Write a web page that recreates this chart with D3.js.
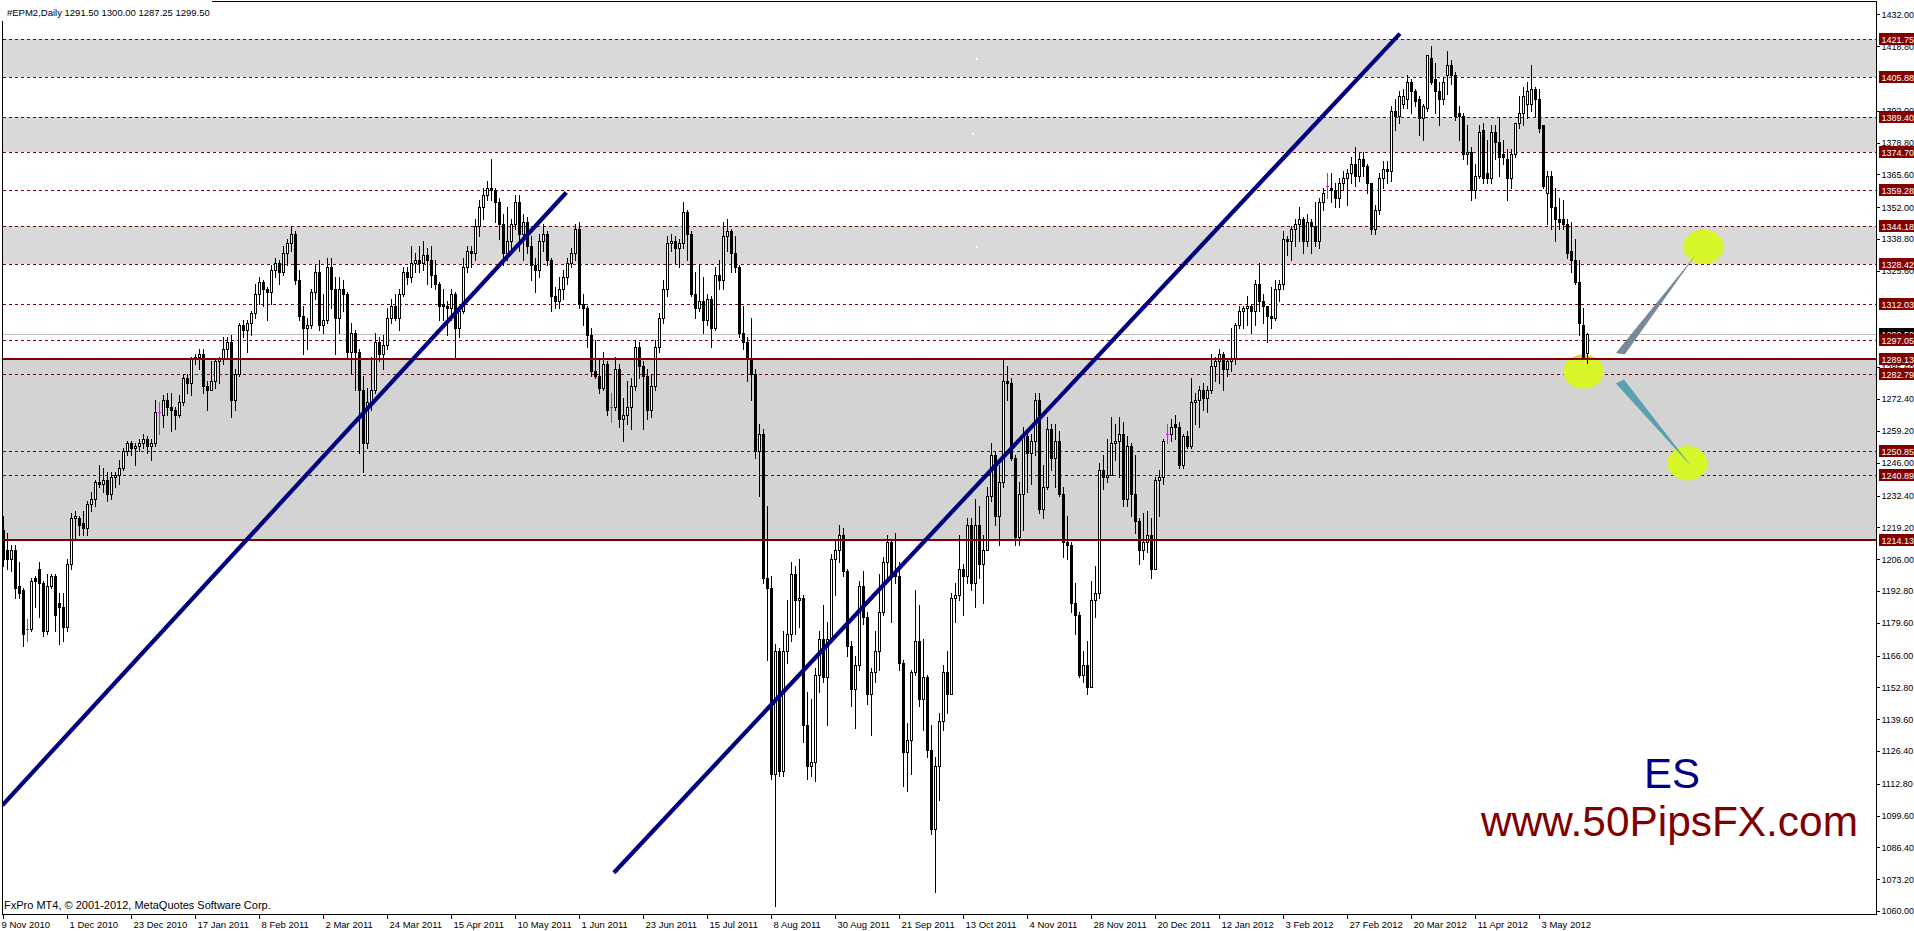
<!DOCTYPE html>
<html><head><meta charset="utf-8">
<script src="https://cdn.jsdelivr.net/npm/d3@7"></script>
<style>
html,body{margin:0;padding:0;background:#fff;overflow:hidden}
svg{display:block}
text{font-family:"Liberation Sans",Arial,sans-serif}
</style></head><body>
<svg id="c" width="1914" height="931"></svg>
<script>
// ---------------- data ----------------
const titleText = "#EPM2,Daily  1291.50 1300.00 1287.25 1299.50";
const copyrightText = "FxPro MT4, \u00A9 2001-2012, MetaQuotes Software Corp.";
const dateLabels = ["9 Nov 2010","1 Dec 2010","23 Dec 2010","17 Jan 2011","8 Feb 2011","2 Mar 2011","24 Mar 2011","15 Apr 2011","10 May 2011","1 Jun 2011","23 Jun 2011","15 Jul 2011","8 Aug 2011","30 Aug 2011","21 Sep 2011","13 Oct 2011","4 Nov 2011","28 Nov 2011","20 Dec 2011","12 Jan 2012","3 Feb 2012","27 Feb 2012","20 Mar 2012","11 Apr 2012","3 May 2012"];
const barsPerDateLabel = 16;
// visible price-scale labels (the ones hidden behind level tags are left out)
const priceTicks = [1432.00,1418.80,1392.00,1378.80,1365.60,1352.00,1338.80,1325.60,1285.60,1272.40,1259.20,1246.00,1232.40,1219.20,1206.00,1192.80,1179.60,1166.00,1152.80,1139.60,1126.40,1112.80,1099.60,1086.40,1073.20,1060.00];

const opens = [1218,1210,1206,1210,1195,1193,1177,1177,1198,1202,
1196,1176,1195,1199,1188,1186,1178,1204,1223,1223,
1221,1219,1229,1231,1238,1237,1239,1233,1240,1241,
1244,1251,1254,1252,1253,1254,1256,1253,1254,1267,
1266,1272,1269,1268,1266,1271,1281,1279,1289,1290,
1291,1278,1276,1280,1288,1289,1293,1296,1272,1283,
1303,1301,1304,1308,1316,1321,1318,1317,1326,1329,
1325,1333,1337,1341,1322,1307,1302,1303,1317,1325,
1303,1305,1327,1318,1306,1318,1316,1292,1300,1292,
1276,1254,1271,1276,1296,1291,1295,1306,1311,1306,
1316,1325,1323,1329,1330,1329,1332,1330,1324,1320,
1312,1311,1310,1316,1302,1309,1327,1334,1333,1344,
1352,1357,1360,1359,1354,1345,1333,1338,1345,1354,
1341,1346,1336,1328,1326,1338,1341,1330,1315,1313,
1318,1323,1329,1333,1343,1312,1310,1299,1284,1282,
1277,1287,1269,1269,1285,1264,1266,1269,1278,1294,
1286,1282,1268,1278,1294,1306,1318,1337,1338,1335,
1337,1350,1341,1316,1310,1313,1305,1314,1302,1324,
1322,1340,1342,1333,1327,1300,1296,1289,1283,1251,
1258,1198,1194,1117,1168,1118,1168,1175,1200,1189,
1190,1137,1120,1122,1158,1173,1157,1173,1206,1210,
1216,1201,1170,1152,1162,1195,1182,1150,1159,1168,
1184,1205,1213,1200,1199,1163,1126,1131,1159,1172,
1148,1157,1127,1094,1120,1139,1159,1150,1190,1191,
1202,1199,1220,1196,1220,1204,1210,1232,1249,1224,
1238,1280,1279,1248,1215,1233,1257,1250,1255,1272,
1227,1236,1260,1248,1255,1233,1213,1212,1188,1183,
1158,1162,1153,1189,1192,1243,1240,1241,1254,1255,
1258,1231,1253,1233,1222,1210,1213,1216,1202,1239,
1240,1258,1258,1262,1261,1245,1257,1253,1271,1272,
1276,1273,1276,1286,1288,1291,1285,1288,1289,1303,
1309,1310,1311,1309,1320,1313,1311,1307,1306,1318,
1320,1339,1338,1343,1345,1347,1338,1346,1344,1338,
1354,1361,1360,1359,1356,1362,1364,1366,1370,1365,
1372,1369,1362,1343,1351,1364,1368,1367,1392,1390,
1395,1397,1404,1400,1397,1389,1393,1414,1405,1400,
1397,1407,1411,1407,1391,1390,1374,1375,1359,1365,
1384,1366,1364,1383,1379,1374,1372,1364,1374,1387,
1391,1395,1395,1401,1397,1386,1358,1365,1352,1347,
1347,1345,1334,1330,1321,1303,1291.5];

const highs = [1224,1217,1212,1212,1205,1194,1181,1198,1199,1205,
1197,1200,1200,1200,1192,1192,1206,1225,1226,1224,
1226,1230,1234,1239,1245,1244,1242,1242,1242,1247,
1252,1255,1255,1254,1256,1258,1257,1256,1272,1271,
1274,1275,1275,1269,1274,1283,1283,1290,1291,1293,
1293,1280,1288,1289,1290,1298,1298,1299,1285,1304,
1305,1305,1309,1320,1323,1322,1319,1328,1331,1330,
1336,1339,1344,1342,1326,1311,1306,1318,1328,1330,
1316,1331,1331,1323,1323,1322,1317,1304,1301,1293,
1282,1277,1290,1300,1298,1299,1310,1314,1316,1318,
1327,1327,1336,1333,1336,1338,1335,1336,1330,1321,
1318,1313,1318,1317,1311,1331,1336,1336,1347,1355,
1360,1363,1372,1360,1356,1349,1352,1347,1357,1357,
1349,1348,1340,1331,1341,1345,1342,1331,1319,1323,
1326,1331,1335,1345,1346,1316,1311,1302,1297,1289,
1292,1288,1275,1290,1287,1273,1280,1281,1297,1296,
1288,1285,1283,1297,1308,1322,1340,1341,1340,1339,
1354,1351,1342,1325,1328,1323,1316,1315,1327,1330,
1346,1347,1343,1340,1328,1311,1298,1306,1285,1262,
1260,1228,1199,1171,1169,1176,1189,1205,1203,1206,
1191,1151,1148,1161,1176,1187,1180,1208,1214,1220,
1219,1202,1172,1166,1197,1201,1184,1161,1176,1200,
1207,1216,1214,1217,1205,1164,1138,1160,1193,1187,
1173,1158,1137,1124,1142,1162,1168,1192,1196,1216,
1204,1223,1223,1231,1228,1216,1236,1254,1251,1245,
1289,1286,1281,1249,1238,1261,1258,1258,1275,1275,
1245,1265,1262,1262,1259,1236,1224,1213,1196,1184,
1168,1172,1197,1203,1246,1249,1256,1265,1262,1265,
1263,1257,1254,1249,1223,1225,1226,1223,1240,1243,
1256,1262,1264,1266,1263,1258,1259,1281,1275,1278,
1279,1278,1291,1290,1293,1292,1289,1302,1304,1311,
1311,1315,1312,1322,1329,1316,1311,1319,1322,1322,
1342,1340,1344,1347,1352,1348,1349,1347,1354,1356,
1360,1366,1366,1362,1364,1367,1368,1373,1377,1375,
1375,1370,1362,1353,1366,1371,1371,1394,1397,1400,
1401,1407,1405,1401,1398,1395,1415,1419,1412,1404,
1406,1417,1413,1408,1394,1391,1386,1377,1370,1386,
1387,1380,1386,1386,1389,1380,1376,1376,1387,1398,
1402,1404,1411,1402,1401,1386,1367,1367,1360,1356,
1355,1347,1346,1339,1330,1310,1300];

const lows = [1203,1202,1201,1190,1190,1170,1172,1176,1186,1182,
1174,1175,1194,1176,1171,1172,1176,1202,1214,1216,
1216,1216,1226,1228,1236,1234,1230,1231,1236,1237,
1243,1249,1249,1245,1251,1252,1250,1247,1253,1258,
1261,1266,1259,1260,1265,1270,1275,1274,1287,1285,
1275,1268,1276,1277,1279,1287,1290,1265,1268,1282,
1298,1292,1299,1306,1312,1311,1305,1312,1323,1320,
1324,1328,1334,1320,1305,1291,1293,1302,1314,1301,
1300,1304,1310,1291,1300,1309,1290,1283,1276,1250,
1242,1252,1268,1275,1288,1285,1293,1304,1305,1301,
1315,1320,1321,1325,1325,1326,1320,1319,1318,1305,
1305,1299,1305,1290,1298,1308,1325,1327,1330,1340,
1347,1355,1355,1346,1339,1328,1330,1333,1343,1334,
1330,1333,1322,1317,1323,1334,1328,1309,1310,1310,
1314,1320,1327,1330,1310,1303,1294,1282,1281,1275,
1276,1266,1263,1268,1261,1255,1262,1260,1276,1281,
1260,1264,1265,1276,1292,1304,1315,1334,1329,1327,
1335,1330,1315,1306,1309,1300,1303,1294,1301,1318,
1318,1334,1325,1325,1298,1293,1280,1272,1248,1232,
1196,1164,1115,1062,1116,1116,1163,1172,1175,1178,
1130,1115,1116,1114,1151,1155,1137,1172,1191,1205,
1199,1166,1145,1136,1160,1179,1146,1133,1155,1160,
1183,1198,1180,1196,1160,1112,1110,1117,1158,1145,
1135,1124,1092,1068,1106,1135,1142,1150,1180,1189,
1183,1196,1193,1186,1198,1188,1210,1230,1220,1212,
1236,1272,1247,1212,1212,1218,1234,1237,1249,1225,
1223,1235,1243,1236,1232,1207,1206,1184,1175,1157,
1155,1150,1153,1182,1190,1235,1238,1241,1247,1240,
1228,1228,1224,1217,1204,1206,1209,1198,1202,1224,
1237,1254,1255,1256,1244,1244,1252,1252,1262,1261,
1268,1267,1275,1280,1279,1276,1282,1284,1287,1302,
1302,1303,1300,1303,1309,1304,1296,1302,1305,1313,
1318,1332,1330,1336,1338,1333,1336,1333,1336,1335,
1351,1356,1354,1352,1352,1359,1353,1362,1361,1363,
1365,1358,1341,1341,1349,1360,1362,1363,1384,1387,
1393,1393,1391,1394,1382,1380,1392,1403,1391,1386,
1395,1399,1403,1388,1380,1372,1370,1355,1356,1364,
1362,1362,1362,1372,1365,1370,1355,1360,1373,1385,
1386,1389,1392,1390,1383,1360,1345,1343,1338,1343,
1343,1331,1325,1320,1299,1289,1287.25];

const closes = [1206,1206,1210,1194,1192,1175,1177,1197,1197,1196,
1176,1195,1199,1183,1186,1178,1204,1223,1224,1220,
1219,1229,1231,1238,1237,1239,1233,1240,1241,1244,
1251,1254,1252,1253,1254,1256,1253,1254,1267,1267,
1272,1269,1268,1266,1271,1281,1279,1289,1290,1291,
1278,1276,1280,1288,1289,1293,1296,1272,1283,1303,
1301,1304,1308,1316,1321,1318,1317,1326,1329,1325,
1333,1337,1341,1322,1307,1302,1303,1317,1325,1303,
1305,1327,1318,1306,1318,1316,1292,1300,1292,1276,
1254,1271,1276,1296,1291,1295,1306,1311,1306,1316,
1325,1323,1329,1330,1329,1332,1330,1324,1320,1311,
1311,1310,1316,1302,1309,1327,1334,1333,1344,1352,
1357,1360,1359,1354,1345,1333,1338,1345,1354,1341,
1346,1336,1328,1326,1338,1341,1330,1315,1313,1318,
1323,1329,1333,1343,1312,1310,1299,1284,1282,1277,
1287,1268,1269,1285,1264,1266,1269,1278,1294,1286,
1282,1268,1278,1294,1306,1318,1337,1338,1335,1337,
1350,1341,1316,1310,1313,1305,1314,1302,1324,1322,
1340,1342,1333,1327,1300,1296,1289,1283,1251,1258,
1198,1194,1117,1168,1118,1168,1175,1200,1189,1190,
1137,1120,1122,1158,1173,1157,1173,1206,1210,1216,
1201,1170,1152,1162,1195,1182,1150,1159,1168,1184,
1205,1213,1200,1199,1163,1126,1131,1159,1172,1148,
1157,1127,1094,1120,1139,1159,1150,1190,1191,1202,
1199,1220,1196,1220,1204,1210,1232,1249,1224,1238,
1280,1279,1248,1215,1233,1257,1250,1255,1272,1227,
1236,1260,1248,1255,1233,1213,1212,1188,1183,1158,
1162,1153,1189,1192,1243,1240,1241,1254,1255,1258,
1231,1253,1233,1222,1210,1213,1216,1202,1239,1240,
1255,1258,1261,1261,1245,1257,1253,1271,1272,1276,
1273,1276,1286,1288,1291,1285,1288,1289,1303,1309,
1310,1311,1309,1320,1313,1311,1307,1306,1318,1320,
1339,1338,1343,1345,1347,1338,1346,1344,1338,1354,
1358,1361,1359,1356,1362,1364,1366,1370,1365,1372,
1369,1362,1343,1351,1364,1368,1367,1392,1390,1398,
1398,1404,1400,1396,1389,1394,1415,1404,1400,1397,
1404,1411,1407,1390,1390,1374,1375,1359,1365,1383,
1364,1364,1383,1379,1373,1373,1364,1374,1387,1391,
1398,1400,1401,1397,1385,1361,1365,1352,1347,1346,
1345,1333,1330,1321,1304,1290,1299.5];

const dashedLevels = [1421.75,1405.88,1389.40,1374.70,1359.28,1344.18,1328.42,1312.03,1297.05,1282.79,1250.85,1240.89];
const solidLevels = [1289.13,1214.13];
const bidPrice = 1299.50;
const zoneTops = [1421.75,1389.40,1344.18,1289.13];
const zoneBottoms = [1405.88,1374.70,1328.42,1214.13];
// trend lines: [barIndex, price] endpoints
const trendLine1 = [[-0.3,1103.9],[140.7,1358.1]];
const trendLine2 = [[152.6,1075.9],[349.1,1424.0]];
// ellipse centres [barIndex, price]
const ellipseCentres = [[395.0,1283.8],[425.0,1335.6],[421.0,1245.8]];
// wedge arrows [barIndex, price]
const wedgeUp = [[403.1,1291.5],[405.3,1290.9],[423.4,1333.0]];
const wedgeDown = [[403.1,1278.9],[405.1,1280.5],[422.1,1244.2]];
// small white marks inside the zones [barIndex, price]
const whiteMarks = [[243.3,1413.6],[242.4,1382.3],[243.3,1335.6]];
const brandTop = "ES";
const brandBottom = "www.50PipsFX.com";

// ---------------- drawing ----------------
const svg = d3.select("#c");
const n = closes.length;
const x = d3.scaleLinear().domain([0, n - 1]).range([3.5, 3.5 + 4 * (n - 1)]);
const y = d3.scaleLinear().domain([1060, 1432]).range([911.1, 14.35]);
const py = p => Math.round(y(p));
const PL = 3, PR = 1876, PT = 2, PB = 914;
const MAROON = "#800000";

svg.append("rect").attr("width",1914).attr("height",931).attr("fill","#fff");

const defs = svg.append("defs");
defs.append("clipPath").attr("id","plotClip").append("rect")
  .attr("x",PL).attr("y",PT).attr("width",PR-PL).attr("height",PB-PT);
const zones = zoneTops.map((t,i)=>({t, b: zoneBottoms[i], i}));
defs.append("clipPath").attr("id","zoneClip").selectAll("rect").data(zones).join("rect")
  .attr("x",PL).attr("width",PR-PL).attr("y",d=>py(d.t)).attr("height",d=>py(d.b)-py(d.t));

const plot = svg.append("g").attr("clip-path","url(#plotClip)");

// zones
plot.append("g").attr("shape-rendering","crispEdges").selectAll("rect").data(zones).join("rect")
  .attr("x",PL).attr("width",PR-PL).attr("y",d=>py(d.t)).attr("height",d=>py(d.b)-py(d.t))
  .attr("fill",d=> d.i===3 ? "#d3d3d3" : "#d9d9d9");

plot.append("g").attr("shape-rendering","crispEdges").selectAll("rect").data(whiteMarks).join("rect")
  .attr("x",d=>Math.round(x(d[0]))-1).attr("y",d=>py(d[1])-1).attr("width",2).attr("height",2).attr("fill","#fff");

// bid line
plot.append("line").attr("x1",PL).attr("x2",PR).attr("y1",py(bidPrice)+0.5).attr("y2",py(bidPrice)+0.5)
  .attr("stroke","#c0c0c0").attr("shape-rendering","crispEdges");

// dashed levels
plot.append("g").attr("shape-rendering","crispEdges").selectAll("line").data(dashedLevels).join("line")
  .attr("x1",PL).attr("x2",PR).attr("y1",d=>py(d)+0.5).attr("y2",d=>py(d)+0.5)
  .attr("stroke",MAROON).attr("stroke-dasharray","3,3");

// ellipses
const eg = plot.append("g");
eg.selectAll("ellipse.g").data(ellipseCentres).join("ellipse").attr("class","g")
  .attr("cx",d=>x(d[0])).attr("cy",d=>y(d[1])).attr("rx",20).attr("ry",17).attr("fill","#f2cf0c");
eg.append("g").attr("clip-path","url(#zoneClip)").selectAll("ellipse").data(ellipseCentres).join("ellipse")
  .attr("cx",d=>x(d[0])).attr("cy",d=>y(d[1])).attr("rx",20).attr("ry",17).attr("fill","#d8f72a");

// candles
const bars = d3.range(n).map(i=>({i,o:opens[i],h:highs[i],l:lows[i],c:closes[i]}));
const cg = plot.append("g").attr("shape-rendering","crispEdges");
const cand = cg.selectAll("g").data(bars).join("g");
cand.append("line")
  .attr("x1",d=>x(d.i)).attr("x2",d=>x(d.i))
  .attr("y1",d=>py(d.h)).attr("y2",d=>py(d.l)+1)
  .attr("stroke",d=> d.o===d.c ? "#ff00ff" : "#000");
cand.each(function(d){
  const g = d3.select(this);
  const left = x(d.i) - 1.5;
  const top = py(Math.max(d.o,d.c)), bot = py(Math.min(d.o,d.c));
  if (d.o === d.c) {
    g.append("rect").attr("x",left).attr("y",top).attr("width",3).attr("height",1).attr("fill","#ff00ff");
  } else if (d.c > d.o) {
    g.append("rect").attr("x",left+0.5).attr("y",top+0.5).attr("width",2)
      .attr("height",Math.max(0,bot-top)).attr("fill","#fff").attr("stroke","#000");
  } else {
    g.append("rect").attr("x",left).attr("y",top).attr("width",3)
      .attr("height",Math.max(1,bot-top+1)).attr("fill","#000");
  }
});

// solid levels
plot.append("g").attr("shape-rendering","crispEdges").selectAll("line").data(solidLevels).join("line")
  .attr("x1",PL).attr("x2",PR).attr("y1",d=>py(d)).attr("y2",d=>py(d))
  .attr("stroke",MAROON).attr("stroke-width",2);

// trend lines
const lineGen = d3.line().x(d=>x(d[0])).y(d=>y(d[1]));
plot.append("g").selectAll("path").data([trendLine1,trendLine2]).join("path")
  .attr("d",lineGen).attr("fill","none").attr("stroke","#000080").attr("stroke-width",4.2);

// wedges
plot.append("path").attr("d",lineGen(wedgeUp)+"Z").attr("fill","#778899");
plot.append("path").attr("d",lineGen(wedgeDown)+"Z").attr("fill","#5aa0b2");

// brand text
svg.append("text").attr("x",1672).attr("y",788).attr("text-anchor","middle")
  .attr("font-size",42).attr("fill","#000088").text(brandTop);
svg.append("text").attr("x",1669.5).attr("y",836).attr("text-anchor","middle")
  .attr("font-size",42.4).attr("fill",MAROON).text(brandBottom);

// frame
const frame = svg.append("g").attr("shape-rendering","crispEdges").attr("stroke","#000").attr("fill","none");
frame.append("line").attr("x1",2.5).attr("x2",PR+0.5).attr("y1",1.5).attr("y2",1.5);
frame.append("line").attr("x1",2.5).attr("x2",2.5).attr("y1",1.5).attr("y2",PB+0.5);
frame.append("line").attr("x1",2.5).attr("x2",PR+0.5).attr("y1",PB+0.5).attr("y2",PB+0.5);
frame.append("line").attr("x1",PR+0.5).attr("x2",PR+0.5).attr("y1",1.5).attr("y2",PB+0.5);

// right price axis
const yAxis = d3.axisRight(y).tickValues(priceTicks).tickSize(3).tickPadding(2)
  .tickFormat(d3.format(".2f"));
const ya = svg.append("g").attr("transform",`translate(${PR+0.5},0)`).call(yAxis);
ya.select(".domain").remove();
ya.selectAll("line").attr("stroke","#000").attr("shape-rendering","crispEdges");
ya.selectAll("text").attr("font-size",9).attr("fill","#000").attr("font-family","Liberation Sans, Arial, sans-serif");

// bottom date axis
const xAxis = d3.axisBottom(x).tickValues(d3.range(0, n, barsPerDateLabel)).tickSize(4).tickPadding(3)
  .tickFormat((d,i)=>dateLabels[i]).offset(0);
const xa = svg.append("g").attr("transform",`translate(0,${PB+0.5})`).call(xAxis);
xa.select(".domain").remove();
xa.selectAll("line").attr("stroke","#000").attr("shape-rendering","crispEdges");
xa.selectAll("text").attr("font-size",9.5).attr("fill","#000").attr("text-anchor","start")
  .attr("x",(d,i)=> i===0 ? -2 : 2).attr("font-family","Liberation Sans, Arial, sans-serif");

// price tags on the right
const labels = svg.append("g");
const bidG = labels.append("g");
bidG.append("rect").attr("x",PR+3).attr("y",py(bidPrice)-6).attr("width",40).attr("height",12).attr("fill","#000");
bidG.append("text").attr("x",PR+5.5).attr("y",py(bidPrice)+0.5).attr("dy","0.34em").attr("font-size",9)
  .attr("fill","#fff").text(d3.format(".2f")(bidPrice));
const lvl = labels.selectAll("g.l").data(dashedLevels.concat(solidLevels)).join("g").attr("class","l");
lvl.append("rect").attr("x",PR+3).attr("y",d=>py(d)-6).attr("width",40).attr("height",12).attr("fill",MAROON);
lvl.append("text").attr("x",PR+5.5).attr("y",d=>py(d)+0.5).attr("dy","0.34em").attr("font-size",9)
  .attr("fill","#fff").text(d=>d3.format(".2f")(d));

// title and copyright
svg.append("rect").attr("x",0).attr("y",0).attr("width",212).attr("height",21).attr("fill","#fff");
svg.append("text").attr("x",7).attr("y",16).attr("font-size",9.5).attr("fill","#000").text(titleText);
svg.append("text").attr("x",4).attr("y",909).attr("font-size",11).attr("fill","#000").text(copyrightText);
</script>
</body></html>
